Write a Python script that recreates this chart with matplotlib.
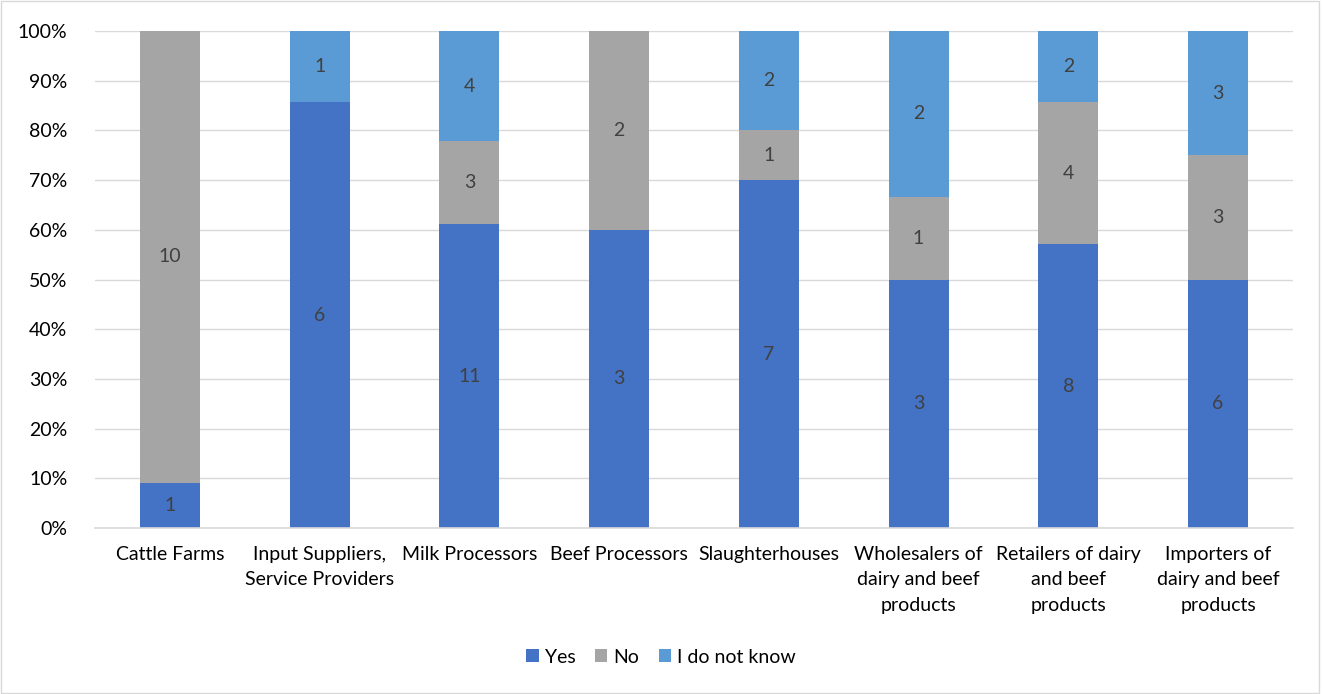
import matplotlib
matplotlib.use("Agg")
import matplotlib.pyplot as plt
from matplotlib.patches import Rectangle
import numpy as np

plt.rcParams['font.family'] = ['Lato', 'DejaVu Sans']

categories = ["Cattle Farms", "Input Suppliers,\nService Providers", "Milk Processors",
              "Beef Processors", "Slaughterhouses", "Wholesalers of\ndairy and beef\nproducts",
              "Retailers of dairy\nand beef\nproducts", "Importers of\ndairy and beef\nproducts"]
yes = [1, 6, 11, 3, 7, 3, 8, 6]
no = [10, 0, 3, 2, 1, 1, 4, 3]
dont_know = [0, 1, 4, 0, 2, 2, 2, 3]

series = [("Yes", yes, "#4472C4"), ("No", no, "#A5A5A5"), ("I do not know", dont_know, "#5B9BD5")]

totals = np.array(yes) + np.array(no) + np.array(dont_know)
x = np.arange(len(categories))

fig = plt.figure(figsize=(13.22, 6.94), dpi=100)
ax = fig.add_axes([0.0719, 0.2392, 0.9061, 0.7161])

bottom = np.zeros(len(categories))
for name, counts, color in series:
    share = np.array(counts) / totals
    ax.bar(x, share, 0.4, bottom=bottom, color=color, label=name, zorder=2)
    for xi, b, s, c in zip(x, bottom, share, counts):
        if c > 0:
            ax.text(xi, b + s / 2, str(c), ha="center", va="center",
                    fontsize=14, color="#404040", zorder=3)
    bottom += share

ax.set_xlim(-0.5, len(categories) - 0.5)
ax.set_ylim(0, 1)
ax.set_yticks(np.arange(0, 1.01, 0.1))
ax.set_yticklabels([f"{int(round(v * 100))}%" for v in np.arange(0, 1.01, 0.1)])
ax.set_xticks(x)
ax.set_xticklabels(categories, linespacing=1.6, va="top")
ax.yaxis.grid(True, color="#D9D9D9", linewidth=1, zorder=0)
ax.tick_params(axis="both", length=0, labelsize=14, colors="#000000")
ax.tick_params(axis="x", pad=13)
ax.tick_params(axis="y", pad=20)
for side in ["top", "right", "left"]:
    ax.spines[side].set_visible(False)
ax.spines["bottom"].set_color("#D9D9D9")
ax.spines["bottom"].set_linewidth(1.2)
ax.spines["bottom"].set_zorder(4)

fig.legend(loc="center", bbox_to_anchor=(0.5, 0.053), ncol=3, frameon=False,
           fontsize=14, handlelength=0.65, handleheight=0.65, handletextpad=0.3,
           columnspacing=1.0)

fig.patches.append(Rectangle((0.001, 0.001), 0.997, 0.997, transform=fig.transFigure,
                             fill=False, edgecolor="#D9D9D9", linewidth=1))

fig.savefig("out.png", dpi=100)
